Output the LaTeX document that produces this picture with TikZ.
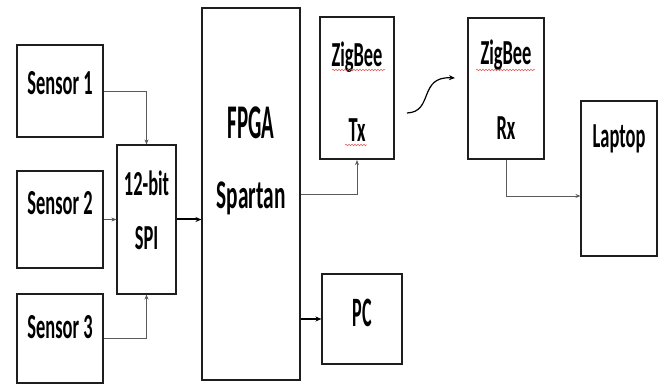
\documentclass[tikz,border=0pt]{standalone}
\usepackage{fontspec}
\setmainfont{Carlito}
\usepackage{graphicx}
\usepackage{tikz}
\usetikzlibrary{arrows.meta, calc, decorations.pathmorphing}
\definecolor{myline}{RGB}{30,30,30}
\definecolor{myarrow}{RGB}{90,90,90}
\definecolor{myspell}{RGB}{220,90,90}
\newcommand{\tallA}[1]{\scalebox{0.97}[1.85]{#1}}
\newcommand{\tallB}[1]{\scalebox{0.95}[2.2]{#1}}
\tikzset{
  box/.style={rectangle, draw=myline, line width=1.1pt, fill=white, inner sep=0pt},
  boxtxt/.style={font=\fontsize{19}{22}\selectfont\bfseries, inner sep=0pt},
  bigtxt/.style={font=\fontsize{22}{26}\selectfont\bfseries, inner sep=0pt},
  arr/.style={-{Stealth[length=5pt, width=4pt]}, line width=0.8pt, color=myarrow},
  bigarr/.style={-{Stealth[length=6pt, width=5pt]}, line width=2pt, color=black},
  spell/.style={draw=myspell, line width=0.5pt,
    decorate, decoration={snake, amplitude=0.8pt, segment length=3pt}}
}
\begin{document}
\begin{tikzpicture}[x=1pt, y=1pt]
  \useasboundingbox (0,0) rectangle (665,385);
  % Sensors
  \node[box, minimum width=86pt, minimum height=92pt,
    label={[boxtxt, yshift=8pt]center:\tallA{Sensor 1}}] (s1) at (60,294) {};
  \node[box, minimum width=86pt, minimum height=97pt,
    label={[boxtxt, yshift=16.5pt]center:\tallA{Sensor 2}}] (s2) at (60,165.5) {};
  \node[box, minimum width=86pt, minimum height=89pt,
    label={[boxtxt, yshift=11.5pt]center:\tallA{Sensor 3}}] (s3) at (60,46.5) {};
  % SPI and FPGA
  \node[box, minimum width=59pt, minimum height=149pt,
    label={[boxtxt, yshift=36.5pt]center:\tallA{12-bit}},
    label={[boxtxt, yshift=-18.5pt]center:\tallA{SPI}}] (spi) at (146.5,165.5) {};
  \node[box, minimum width=98pt, minimum height=372pt,
    label={[bigtxt, yshift=71pt]center:\tallB{FPGA}},
    label={[bigtxt, yshift=-4pt]center:\tallA{Spartan}}] (fpga) at (251,191) {};
  % ZigBee link
  \node[box, line width=2.2pt, minimum width=74pt, minimum height=142pt,
    label={[boxtxt, yshift=31pt]center:\tallA{ZigBee}},
    label={[boxtxt, yshift=-42pt]center:\tallA{Tx}}] (tx) at (357,297) {};
  \node[box, minimum width=76pt, minimum height=141pt,
    label={[boxtxt, yshift=33.5pt]center:\tallA{ZigBee}},
    label={[boxtxt, yshift=-39.5pt]center:\tallA{Rx}}] (rx) at (506,296.5) {};
  % Outputs
  \node[box, minimum width=76pt, minimum height=155pt,
    label={[boxtxt, yshift=40pt]center:\tallA{Laptop}}] (laptop) at (619,206.5) {};
  \node[box, minimum width=80pt, minimum height=90pt,
    label={[boxtxt, yshift=6pt]center:\tallB{PC}}] (pc) at (362,66) {};
  % Spell-check marks
  \draw[spell] (332,315) -- (385,315);
  \draw[spell] (345,240) -- (367,240);
  \draw[spell] (476,315) -- (535,315);
  % Connections
  \draw[arr] (s1) -| (spi);
  \draw[arr] (s2) -- (spi);
  \draw[arr] (s3) -| (spi);
  \draw[bigarr] (spi.east) -- (spi.east -| fpga.west);
  \draw[arr] (fpga) -| (tx);
  \draw[bigarr] (pc.west -| fpga.east) -- (pc.west);
  \coordinate (laptopin) at ($(laptop.west)+(0,-17.5)$);
  \draw[arr] (rx.south) |- (laptopin);
  % Wireless link
  \coordinate (wstart) at (407,272);
  \coordinate (wend) at (455,307);
  \draw[-{Stealth[length=6pt, width=5pt]}, color=black, line width=1.2pt]
    (wstart) .. controls (434,273) and (418,309) .. (wend);
\end{tikzpicture}
\end{document}
